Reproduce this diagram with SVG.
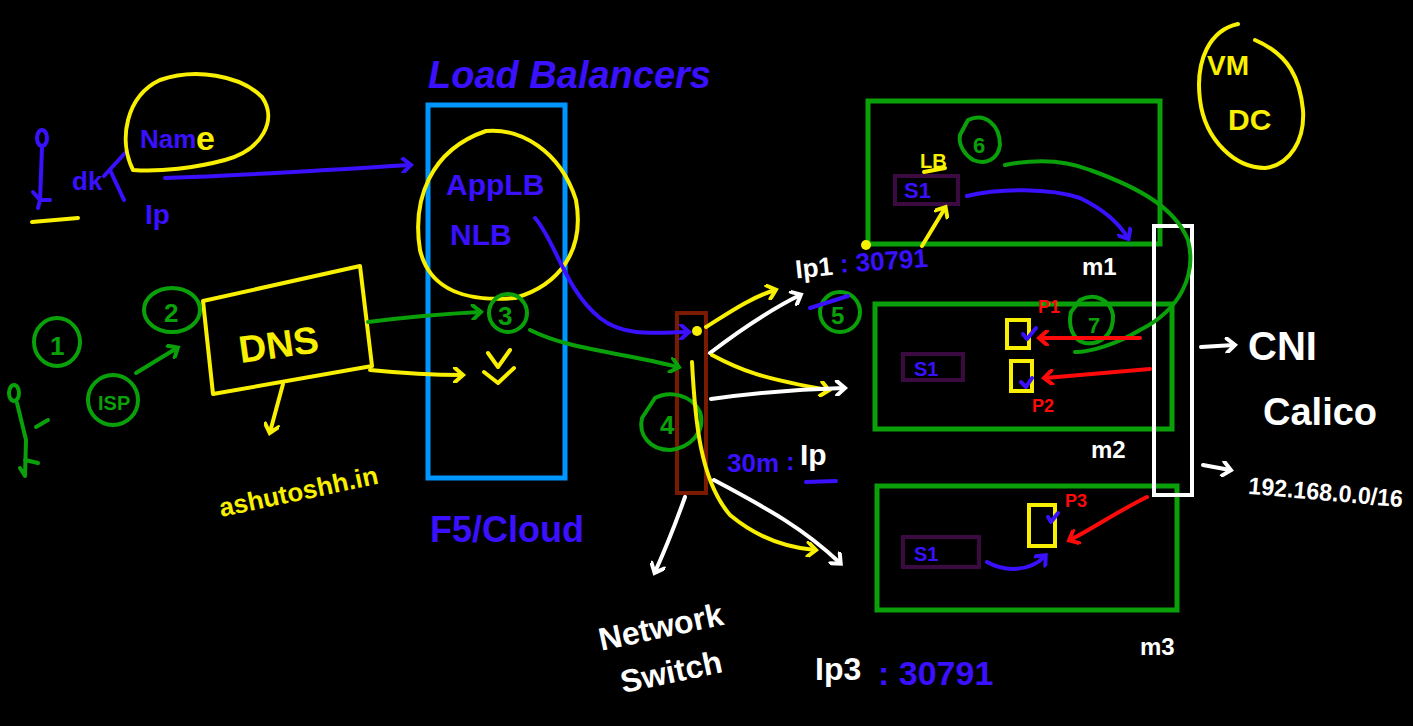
<svg xmlns="http://www.w3.org/2000/svg" width="1413" height="726" viewBox="0 0 1413 726">
<defs>
<style>
.ln{fill:none;stroke-width:4;stroke-linecap:round;stroke-linejoin:round}
.bl{stroke:#3a10ff}.ye{stroke:#f8f000}.gr{stroke:#0aa00a}.wh{stroke:#ffffff}.rd{stroke:#ff0a0a}
.t{font-family:"Liberation Sans",Arial,sans-serif;font-weight:bold}
.tb{fill:#3a10ff}.ty{fill:#f8f000}.tg{fill:#0aa00a}.tw{fill:#ffffff}.tr{fill:#ff0a0a}
</style>
<marker id="aB" markerWidth="16" markerHeight="16" refX="10" refY="8" orient="auto" markerUnits="userSpaceOnUse"><path d="M3,1 L11,8 L3,15" fill="none" stroke="#3a10ff" stroke-width="4" stroke-linecap="round"/></marker>
<marker id="aY" markerWidth="16" markerHeight="16" refX="10" refY="8" orient="auto" markerUnits="userSpaceOnUse"><path d="M3,1 L11,8 L3,15" fill="none" stroke="#f8f000" stroke-width="4" stroke-linecap="round"/></marker>
<marker id="aG" markerWidth="16" markerHeight="16" refX="10" refY="8" orient="auto" markerUnits="userSpaceOnUse"><path d="M3,1 L11,8 L3,15" fill="none" stroke="#0aa00a" stroke-width="4" stroke-linecap="round"/></marker>
<marker id="aW" markerWidth="16" markerHeight="16" refX="10" refY="8" orient="auto" markerUnits="userSpaceOnUse"><path d="M3,1 L11,8 L3,15" fill="none" stroke="#ffffff" stroke-width="4" stroke-linecap="round"/></marker>
<marker id="aR" markerWidth="16" markerHeight="16" refX="10" refY="8" orient="auto" markerUnits="userSpaceOnUse"><path d="M3,1 L11,8 L3,15" fill="none" stroke="#ff0a0a" stroke-width="4" stroke-linecap="round"/></marker>
</defs>
<rect width="1413" height="726" fill="#000"/>

<!-- user on the left (blue) -->
<g id="user-dk">
<ellipse cx="42" cy="138" rx="5" ry="8" class="ln bl"/>
<path d="M42,148 L40,200 M40,200 L33,192 M40,200 L50,200 M40,200 L38,208" class="ln bl"/>
<path d="M32,222 L78,218" class="ln ye"/>
<text x="72" y="190" class="t tb" font-size="26">dk</text>
<path d="M104,176 L126,152 M110,170 L124,200" class="ln bl"/>
<text x="145" y="224" class="t tb" font-size="28">Ip</text>
</g>

<g id="name-bubble">
<path d="M133,170 C118,140 126,96 160,80 C195,68 240,75 262,97 C278,120 262,150 225,160 C195,168 160,172 133,170 Z" class="ln ye"/>
<text x="140" y="148" class="t tb" font-size="26">Nam</text>
<text x="196" y="150" class="t ty" font-size="34">e</text>
</g>

<!-- load balancer -->
<g id="load-balancer">
<text x="428" y="88" class="t tb" font-size="38" font-style="italic" font-weight="normal">Load Balancers</text>
<rect x="428" y="105" width="137" height="373" fill="none" stroke="#0096ff" stroke-width="5"/>
<path d="M486,131 C520,128 560,150 576,200 C585,250 560,285 515,298 C470,302 430,292 420,250 C412,200 430,150 486,131 Z" class="ln ye"/>
<text x="446" y="195" class="t tb" font-size="30">AppLB</text>
<text x="450" y="245" class="t tb" font-size="30">NLB</text>
<path d="M488,353 L498,367 L510,350 M484,372 L498,383 L514,368" class="ln ye"/>
<text x="430" y="542" class="t tb" font-size="36" font-weight="normal">F5/Cloud</text>
</g>

<g id="step3">
<circle cx="508" cy="313" r="19" class="ln gr"/>
<text x="498" y="325" class="t tg" font-size="26">3</text>
</g>

<!-- DNS -->
<g id="dns">
<path d="M203,301 L360,266 L372,366 L213,394 Z" class="ln ye"/>
<text x="238" y="356" class="t ty" font-size="38" transform="rotate(-8 290 340)">DNS</text>
<text x="215" y="502" class="t ty" font-size="26" transform="rotate(-12 290 480)">ashutoshh.in</text>
</g>

<g id="step2">
<ellipse cx="172" cy="310" rx="28" ry="22" class="ln gr"/>
<text x="164" y="322" class="t tg" font-size="26">2</text>
</g>
<g id="step1">
<ellipse cx="57" cy="342" rx="23" ry="24" class="ln gr"/>
<text x="50" y="355" class="t tg" font-size="26">1</text>
</g>
<g id="user-green">
<ellipse cx="14" cy="393" rx="5" ry="8" class="ln gr"/>
<path d="M17,403 L26,440 L25,476 M25,476 L20,468 M25,460 L38,463 M36,427 L48,420" class="ln gr"/>
</g>
<g id="isp">
<circle cx="113" cy="400" r="25" class="ln gr"/>
<text x="98" y="410" class="t tg" font-size="20">ISP</text>
</g>

<!-- network switch -->
<g id="network-switch">
<rect x="677" y="313" width="29" height="180" fill="none" stroke="#7a1a00" stroke-width="4"/>
<circle cx="697" cy="331" r="5" fill="#f8f000"/>
<text x="596" y="640" class="t tw" font-size="32" transform="rotate(-12 650 620)">Network</text>
<text x="618" y="685" class="t tw" font-size="32" transform="rotate(-12 660 665)">Switch</text>
</g>
<g id="step4">
<path d="M655,398 C670,390 692,395 700,412 C706,432 690,448 670,450 C650,450 638,435 642,418 Z" class="ln gr"/>
<text x="660" y="434" class="t tg" font-size="26">4</text>
</g>
<g id="port-30m">
<text x="727" y="472" class="t tb" font-size="26">30m</text>
<text x="786" y="470" class="t tb" font-size="26">:</text>
<text x="800" y="465" class="t tw" font-size="30">Ip</text>
<path d="M806,482 L836,481" class="ln bl"/>
</g>

<!-- machines -->
<g id="m1">
<rect x="868" y="101" width="292" height="143" fill="none" stroke="#0aa00a" stroke-width="5"/>
<text x="920" y="168" class="t ty" font-size="20">LB</text>
<path d="M924,172 L945,168" class="ln ye"/>
<rect x="895" y="176" width="63" height="28" fill="none" stroke="#3a0a40" stroke-width="4"/>
<text x="904" y="198" class="t tb" font-size="22">S1</text>
<circle cx="866" cy="245" r="5" fill="#f8f000"/>
<text x="1082" y="275" class="t tw" font-size="24">m1</text>
</g>
<g id="step6">
<path d="M968,120 C985,112 1000,125 1000,145 C998,160 985,165 973,160 C965,155 958,145 960,135 Z" class="ln gr"/>
<text x="973" y="153" class="t tg" font-size="22">6</text>
</g>
<g id="ip1">
<text x="795" y="275" class="t tw" font-size="26" transform="rotate(-6 830 265)">Ip1</text>
<text x="840" y="270" class="t tb" font-size="26" transform="rotate(-4 880 265)">: 30791</text>
</g>
<g id="step5">
<circle cx="840" cy="312" r="20" class="ln gr"/>
<text x="831" y="324" class="t tg" font-size="24">5</text>
</g>

<g id="m2">
<rect x="875" y="304" width="297" height="125" fill="none" stroke="#0aa00a" stroke-width="5"/>
<rect x="903" y="354" width="60" height="26" fill="none" stroke="#3a0a40" stroke-width="4"/>
<text x="914" y="376" class="t tb" font-size="20">S1</text>
<rect x="1007" y="320" width="22" height="28" fill="none" stroke="#f8f000" stroke-width="4"/>
<rect x="1011" y="361" width="21" height="30" fill="none" stroke="#f8f000" stroke-width="4"/>
<path d="M1023,334 L1027,339 L1036,328 M1021,382 L1026,387 L1032,378" class="ln bl"/>
<text x="1038" y="313" class="t tr" font-size="18">P1</text>
<text x="1032" y="412" class="t tr" font-size="18">P2</text>
<text x="1091" y="458" class="t tw" font-size="24">m2</text>
</g>

<g id="step7">
<path d="M1080,300 C1095,292 1110,300 1113,315 C1114,335 1100,345 1085,343 C1072,340 1068,325 1071,312 Z" class="ln gr"/>
<text x="1088" y="333" class="t tg" font-size="22">7</text>
</g>

<g id="m3">
<rect x="877" y="486" width="300" height="124" fill="none" stroke="#0aa00a" stroke-width="5"/>
<rect x="903" y="537" width="76" height="30" fill="none" stroke="#3a0a40" stroke-width="4"/>
<text x="914" y="561" class="t tb" font-size="20">S1</text>
<rect x="1029" y="505" width="26" height="41" fill="none" stroke="#f8f000" stroke-width="4"/>
<path d="M1048,517 L1051,522 L1058,513" class="ln bl"/>
<text x="1065" y="507" class="t tr" font-size="18">P3</text>
<text x="1140" y="655" class="t tw" font-size="24">m3</text>
</g>

<g id="cni-bar">
<rect x="1154" y="226" width="38" height="269" fill="none" stroke="#ffffff" stroke-width="4"/>
</g>
<g id="cni-label">
<text x="1248" y="360" class="t tw" font-size="40" font-weight="normal">CNI</text>
<text x="1263" y="425" class="t tw" font-size="38" font-weight="normal">Calico</text>
<text x="1248" y="500" class="t tw" font-size="24" font-weight="normal" textLength="155" lengthAdjust="spacingAndGlyphs" transform="rotate(5 1320 495)">192.168.0.0/16</text>
</g>
<g id="ip3">
<text x="815" y="680" class="t tw" font-size="32">Ip3</text>
<text x="878" y="685" class="t tb" font-size="34">: 30791</text>
</g>
<g id="vm-dc">
<path d="M1238,24 C1210,30 1195,60 1200,100 C1205,140 1235,168 1265,168 C1290,165 1305,140 1303,110 C1300,80 1290,55 1255,40" class="ln ye"/>
<text x="1207" y="75" class="t ty" font-size="28">VM</text>
<text x="1228" y="130" class="t ty" font-size="30">DC</text>
</g>

<!-- connectors -->
<g id="connectors">
<path d="M165,178 C250,175 330,170 410,165" class="ln bl" marker-end="url(#aB)"/>
<path d="M136,373 L177,348" class="ln gr" marker-end="url(#aG)"/>
<path d="M368,322 C400,318 440,314 480,312" class="ln gr" marker-end="url(#aG)"/>
<path d="M370,370 C400,373 430,375 462,375" class="ln ye" marker-end="url(#aY)"/>
<path d="M283,384 L270,432" class="ln ye" marker-end="url(#aY)"/>
<path d="M535,218 C555,240 565,290 600,318 C625,338 660,332 688,332" class="ln bl" marker-end="url(#aB)"/>
<path d="M530,330 C570,350 620,352 678,367" class="ln gr" marker-end="url(#aG)"/>
<path d="M706,327 C730,312 750,298 775,290" class="ln ye" marker-end="url(#aY)"/>
<path d="M710,353 C740,330 770,310 800,295" class="ln wh" marker-end="url(#aW)"/>
<path d="M712,355 C740,370 760,378 828,390" class="ln ye" marker-end="url(#aY)"/>
<path d="M711,399 C760,392 800,389 844,388" class="ln wh" marker-end="url(#aW)"/>
<path d="M692,362 C695,420 700,480 730,515 C760,540 790,548 815,550" class="ln ye" marker-end="url(#aY)"/>
<path d="M714,480 C760,505 800,525 840,563" class="ln wh" marker-end="url(#aW)"/>
<path d="M685,497 C675,525 665,550 655,572" class="ln wh" marker-end="url(#aW)"/>
<path d="M810,308 L848,296" class="ln bl"/>
<path d="M922,246 L945,208" class="ln ye" marker-end="url(#aY)"/>
<path d="M967,196 C1000,188 1050,188 1080,198 C1105,210 1120,225 1128,238" class="ln bl" marker-end="url(#aB)"/>
<path d="M1005,165 C1030,160 1060,158 1090,170 C1140,188 1175,208 1188,240 C1197,275 1180,310 1140,330 C1115,345 1090,352 1075,352" class="ln gr"/>
<path d="M1140,338 L1040,338" class="ln rd" marker-end="url(#aR)"/>
<path d="M1150,369 L1045,378" class="ln rd" marker-end="url(#aR)"/>
<path d="M1147,497 C1120,510 1090,530 1070,540" class="ln rd" marker-end="url(#aR)"/>
<path d="M987,562 C1005,572 1030,572 1045,556" class="ln bl" marker-end="url(#aB)"/>
<path d="M1201,347 L1234,345" class="ln wh" marker-end="url(#aW)"/>
<path d="M1203,465 L1230,470" class="ln wh" marker-end="url(#aW)"/>
</g>
</svg>
